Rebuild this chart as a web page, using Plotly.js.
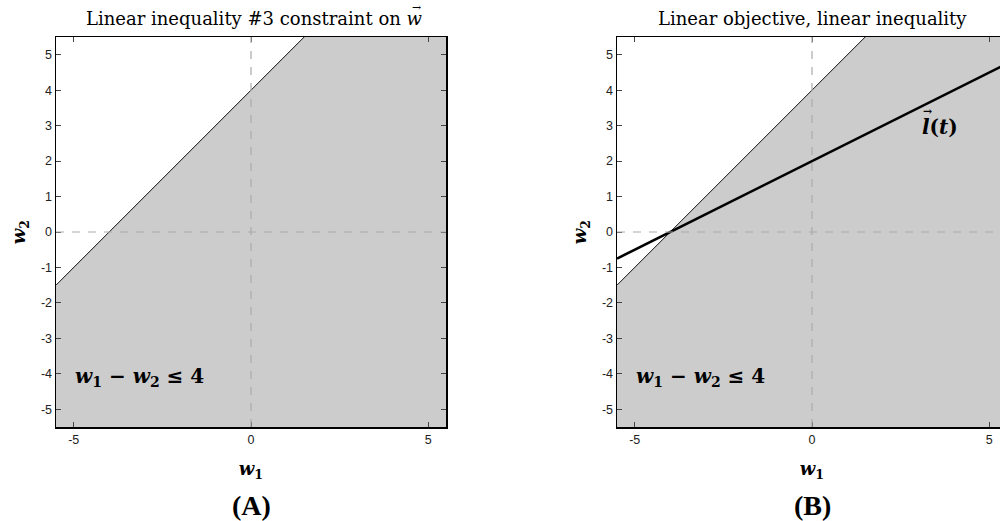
<!DOCTYPE html>
<html>
<head>
<meta charset="utf-8">
<script src="https://cdn.plot.ly/plotly-3.0.1.min.js"></script>
<style>
html,body{margin:0;padding:0;overflow:hidden;background:#fff;width:1000px;height:521px;}
#chart{width:1010px;height:521px;}
</style>
</head>
<body>
<div id="chart"></div>
<script>
// Data
var axisRange = [-5.5, 5.5];
var yTickVals = [-5, -4, -3, -2, -1, 0, 1, 2, 3, 4, 5];
var yTickText = ['-5', '-4', '-3', '-2', '-1', '0', '1', '2', '3', '4', '5'];
var xTickVals = [-5, 0, 5];
var xTickText = ['-5', '0', '5'];
// boundary of the constraint (line through (-4,0) and (0,4))
var boundaryW1 = [-5.5, 1.5];
var boundaryW2 = [-1.5, 5.5];
// shaded feasible region polygon
var regionW1 = [-5.5, 1.5, 5.5, 5.5, -5.5, -5.5];
var regionW2 = [-1.5, 5.5, 5.5, -5.5, -5.5, -1.5];
// objective line l(t) (through (-4,0) and (0,2))
var objW1 = [-5.5, 5.5];
var objW2 = [-0.75, 4.75];

var titleA = 'Linear inequality #3 constraint on <i>w</i>';
var titleB = 'Linear objective, linear inequality';
var constraintLabel = '<b><i>w</i><sub>1</sub> − <i>w</i><sub>2</sub> ≤ 4</b>';
var objLabel = '<b><i>l</i>(<i>t</i>)</b>';
var panelLabels = ['(A)', '(B)'];

var serif = 'DejaVu Serif, serif';
var W = 1010;
var fillColor = '#cccccc';

function region(xa, ya) {
  return {x: regionW1, y: regionW2, xaxis: xa, yaxis: ya, type: 'scatter', mode: 'none',
    fill: 'toself', fillcolor: fillColor, hoverinfo: 'skip', showlegend: false};
}
function boundary(xa, ya) {
  return {x: boundaryW1, y: boundaryW2, xaxis: xa, yaxis: ya, type: 'scatter', mode: 'lines',
    line: {color: '#111', width: 1}, showlegend: false};
}
var traces = [
  region('x', 'y'), boundary('x', 'y'),
  region('x2', 'y2'), boundary('x2', 'y2'),
  {x: objW1, y: objW2, xaxis: 'x2', yaxis: 'y2', type: 'scatter', mode: 'lines',
   line: {color: '#000', width: 2.6}, showlegend: false}
];

var tickFont = {family: 'Liberation Sans, Arial, sans-serif', size: 12.5, color: '#222'};
function xax(dom, anchor) {
  return {domain: dom, anchor: anchor, range: axisRange, tickvals: xTickVals, ticktext: xTickText,
    ticks: 'inside', ticklen: 5, tickcolor: '#444', tickwidth: 1,
    showline: true, linecolor: '#000', linewidth: 1.5, mirror: 'ticks',
    showgrid: false, zeroline: false, tickfont: tickFont,
    title: {text: '<b><i>w</i><sub>1</sub></b>', font: {family: serif, size: 18, color: '#000'}, standoff: 17}};
}
function yax(anchor) {
  return {domain: [0, 1], anchor: anchor, range: axisRange, tickvals: yTickVals, ticktext: yTickText,
    ticks: 'inside', ticklen: 5, tickcolor: '#444', tickwidth: 1,
    showline: true, linecolor: '#000', linewidth: 1.5, mirror: 'ticks',
    showgrid: false, zeroline: false, tickfont: tickFont,
    title: {text: '<b><i>w</i><sub>2</sub></b>', font: {family: serif, size: 18, color: '#000'}, standoff: 10}};
}
var domA = [56 / W, 446 / W];
var domB = [617 / W, 1007 / W];

function dashes(xr, yr) {
  return [
    {type: 'line', xref: xr, yref: yr + ' domain', x0: 0, x1: 0, y0: 0, y1: 1,
     line: {color: '#aaaaaa', width: 1.2, dash: '8px,8px'}, layer: 'above'},
    {type: 'line', xref: xr + ' domain', yref: yr, x0: 0, x1: 1, y0: 0, y1: 0,
     line: {color: '#aaaaaa', width: 1.2, dash: '8px,8px'}, layer: 'above'}
  ];
}

var titleFont = {family: serif, size: 18, color: '#000'};
var layout = {
  width: W, height: 521,
  margin: {l: 0, r: 0, t: 37, b: 94},
  paper_bgcolor: '#fff', plot_bgcolor: '#fff',
  xaxis: xax(domA, 'y'), yaxis: yax('x'),
  xaxis2: xax(domB, 'y2'), yaxis2: yax('x2'),
  shapes: dashes('x', 'y').concat(dashes('x2', 'y2')),
  annotations: [
    {text: titleA, xref: 'x domain', yref: 'paper', x: 0.945, xanchor: 'right', y: 1, yanchor: 'bottom', yshift: 6,
     showarrow: false, font: titleFont},
    {text: '→', xref: 'x domain', yref: 'paper', x: 0.945, xanchor: 'right', xshift: -2, y: 1, yanchor: 'bottom', yshift: 21,
     showarrow: false, font: {family: serif, size: 11, color: '#000'}},
    {text: titleB, xref: 'x2 domain', yref: 'paper', x: 0.5, y: 1, yanchor: 'bottom', yshift: 6,
     showarrow: false, font: titleFont},
    {text: constraintLabel, xref: 'x', yref: 'y', x: -3.15, y: -4.1, showarrow: false,
     font: {family: serif, size: 20, color: '#000'}},
    {text: constraintLabel, xref: 'x2', yref: 'y2', x: -3.15, y: -4.1, showarrow: false,
     font: {family: serif, size: 20, color: '#000'}},
    {text: objLabel, xref: 'x2', yref: 'y2', x: 3.05, xanchor: 'left', y: 2.95, showarrow: false,
     font: {family: serif, size: 20, color: '#000'}},
    {text: '<b>→</b>', xref: 'x2', yref: 'y2', x: 3.05, xanchor: 'left', xshift: 1, y: 2.95, yshift: 16, showarrow: false,
     font: {family: serif, size: 11, color: '#000'}},
    {text: '<b>' + panelLabels[0] + '</b>', xref: 'x domain', yref: 'paper', x: 0.5, y: -0.2, yanchor: 'middle', yshift: 0,
     showarrow: false, font: {family: 'Liberation Serif, serif', size: 28, color: '#000'}},
    {text: '<b>' + panelLabels[1] + '</b>', xref: 'x2 domain', yref: 'paper', x: 0.5, y: -0.2, yanchor: 'middle', yshift: 0,
     showarrow: false, font: {family: 'Liberation Serif, serif', size: 28, color: '#000'}}
  ]
};

Plotly.newPlot('chart', traces, layout, {displayModeBar: false, staticPlot: true});
</script>
</body>
</html>
